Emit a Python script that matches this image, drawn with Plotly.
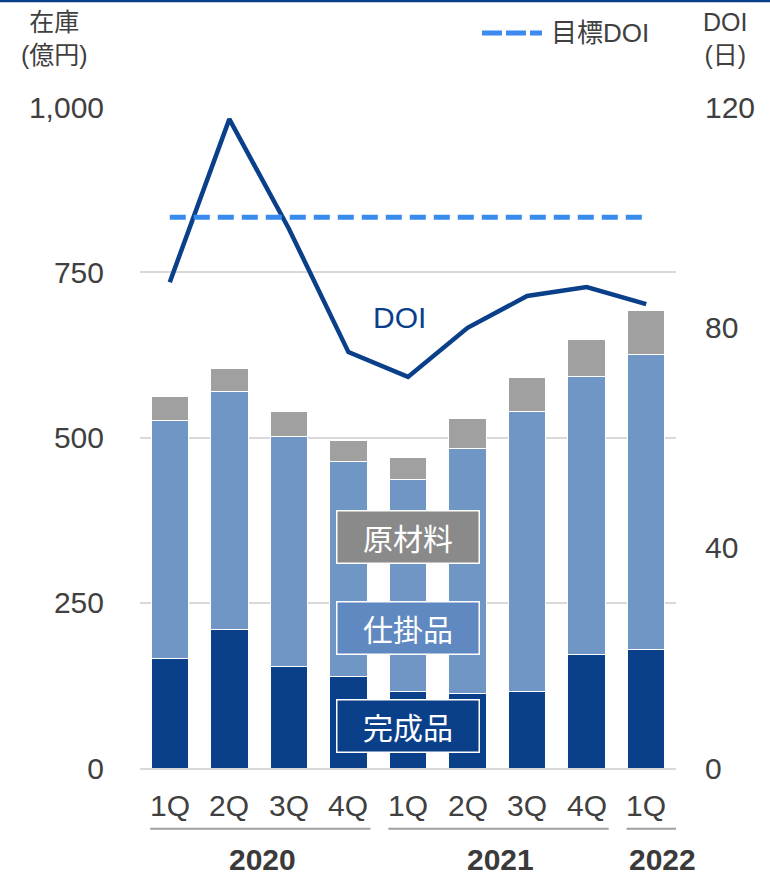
import plotly.graph_objects as go

quarters = ["1Q", "2Q", "3Q", "4Q", "1Q", "2Q", "3Q", "4Q", "1Q"]
years = ["2020", "2021", "2022"]
year_spans = [(0, 3), (4, 7), (8, 8)]
finished = [166, 209, 153, 138, 116, 112, 115, 172, 179]          # 完成品
wip_top = [525, 569, 501, 463, 437, 484, 540, 592, 626]           # 完成品+仕掛品
total = [562, 605, 540, 496, 469, 528, 591, 648, 692]             # 合計
wip = [w - f for w, f in zip(wip_top, finished)]                  # 仕掛品
raw = [t - w for t, w in zip(total, wip_top)]                     # 原材料
doi = [88.2, 117.8, 97.9, 75.5, 71.0, 79.9, 85.7, 87.3, 84.2]
target_doi = [100] * 9

DARK = "#0a3f8a"
MID = "#7096c6"
GRAY = "#a0a0a0"
TXT = "#404040"
TARGET = "#3a8af0"
FONT = "Liberation Sans, Noto Sans CJK JP, Arial, sans-serif"
JFONT = "Noto Sans CJK JP, Liberation Sans, sans-serif"

x = list(range(len(quarters)))
fig = go.Figure()
for name, vals, col in [("完成品", finished, DARK), ("仕掛品", wip, MID), ("原材料", raw, GRAY)]:
    fig.add_trace(go.Bar(x=x, y=vals, name=name, marker=dict(color=col, line=dict(color="white", width=1)),
                         width=0.63, showlegend=False))

fig.add_trace(go.Scatter(x=x, y=doi, yaxis="y2", mode="lines", name="DOI",
                         line=dict(color=DARK, width=4.5), showlegend=False))
fig.add_trace(go.Scatter(x=x, y=target_doi, yaxis="y2", mode="lines", name="目標DOI",
                         line=dict(color=TARGET, width=5, dash="16px,8px"), showlegend=False))

fig.update_layout(
    width=770, height=877,
    margin=dict(l=140, r=94, t=107, b=109),
    plot_bgcolor="white", paper_bgcolor="white",
    barmode="stack",
    font=dict(family=FONT, color=TXT, size=30),
    xaxis=dict(range=[-0.5, 8.5], showticklabels=False, showgrid=False, zeroline=False,
               showline=True, linecolor="#d9d9d9", linewidth=1.5, ticks=""),
    yaxis=dict(range=[0, 1000], tickvals=[0, 250, 500, 750, 1000], tickformat=",", showgrid=True,
               gridcolor="#d9d9d9", gridwidth=1.5, zeroline=False, ticks="", ticklabelstandoff=35,
               tickfont=dict(size=30, color=TXT, family=FONT)),
    yaxis2=dict(range=[0, 120], tickvals=[0, 40, 80, 120], overlaying="y", side="right", showgrid=False,
                zeroline=False, ticks="", ticklabelstandoff=28, tickfont=dict(size=30, color=TXT, family=FONT)),
    showlegend=False,
)

ann = []
for i, q in enumerate(quarters):
    ann.append(dict(x=i, y=-0.056, xref="x", yref="paper", text=q, showarrow=False,
                    font=dict(size=30, color=TXT, family=FONT), xanchor="center", yanchor="middle"))
shapes = []
for yr, (a, b) in zip(years, year_spans):
    x0 = a - 0.33
    x1 = b + 0.37 if b < 8 else b + 0.57
    shapes.append(dict(type="line", xref="x", yref="paper", x0=x0, x1=x1, y0=-0.092, y1=-0.092,
                       line=dict(color="#a0a0a0", width=2)))
    ann.append(dict(x=(a + b) / 2 + 0.05 if b < 8 else 8.27, y=-0.138, xref="x", yref="paper",
                    text=f"<b>{yr}</b>", showarrow=False, xanchor="center",
                    font=dict(size=30, color="#3a3a3a", family=FONT), yanchor="middle"))

# axis titles
ann.append(dict(x=-0.159, y=1.104, xref="paper", yref="paper", text="在庫<br>(億円)", showarrow=False,
                font=dict(size=25, color=TXT, family=FONT), align="center", xanchor="center", yanchor="middle"))
ann.append(dict(x=1.091, y=1.104, xref="paper", yref="paper", text="DOI<br>(日)", showarrow=False,
                font=dict(size=25, color=TXT, family=FONT), align="center", xanchor="center", yanchor="middle"))

# legend for target DOI (drawn manually)
shapes.append(dict(type="line", xref="paper", yref="paper", x0=0.638, x1=0.750, y0=1.112, y1=1.112,
                   line=dict(color=TARGET, width=5, dash="20px,4px")))
ann.append(dict(x=0.763, y=1.112, xref="paper", yref="paper", text="目標DOI", showarrow=False,
                xanchor="left", yanchor="middle", font=dict(size=26, color=TXT, family=FONT)))

# series labels
ann.append(dict(x=3.85, y=681, xref="x", yref="y", text="DOI", showarrow=False, xanchor="center",
                font=dict(size=30, color=DARK, family=FONT)))
for txt, yv, bg in [("原材料", 349, "#8a8a8a"), ("仕掛品", 212, "#5f89c0"), ("完成品", 64, DARK)]:
    ann.append(dict(x=4, y=yv, xref="x", yref="y", text=txt, showarrow=False, width=137, height=47,
                    bgcolor=bg, bordercolor="white", borderwidth=1.5, borderpad=2, xanchor="center",
                    font=dict(size=30, color="white", family=JFONT)))

shapes.append(dict(type="line", xref="paper", yref="paper", x0=-0.3, x1=1.2, y0=1.1604, y1=1.1604,
                   line=dict(color=DARK, width=2.5)))

fig.update_layout(annotations=ann, shapes=shapes)
fig.write_html("out.html", config={"displayModeBar": False},
               post_script="document.body.style.margin='0';document.body.style.overflow='hidden';")
